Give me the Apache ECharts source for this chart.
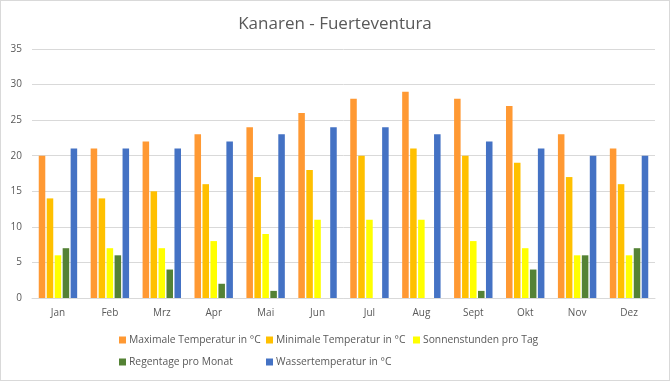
<!DOCTYPE html>
<html><head><meta charset="utf-8">
<script src="https://cdn.jsdelivr.net/npm/echarts@6/dist/echarts.min.js"></script>
<style>html,body{margin:0;padding:0;background:#fff}#c{width:668px;height:379px;border:1px solid #d9d9d9}</style>
</head><body><div id="c"></div>
<script>
var categories = ["Jan","Feb","Mrz","Apr","Mai","Jun","Jul","Aug","Sept","Okt","Nov","Dez"];
var maxTemp = [20,21,22,23,24,26,28,29,28,27,23,21];
var minTemp = [14,14,15,16,17,18,20,21,20,19,17,16];
var sunHours = [6,7,7,8,9,11,11,11,8,7,6,6];
var rainDays = [7,6,4,2,1,0,0,0,1,4,6,7];
var waterTemp = [21,21,21,22,23,24,24,23,22,21,20,20];
var names = ["Maximale Temperatur in °C","Minimale Temperatur in °C","Sonnenstunden pro Tag","Regentage pro Monat","Wassertemperatur in °C"];
var colors = ["#FF9933","#FFC000","#FFFF00","#548235","#4472C4"];
var yTicks = [0,5,10,15,20,25,30,35];
var chart = echarts.init(document.getElementById('c'));
var font = "'Open Sans', 'Liberation Sans', sans-serif";
var data = [maxTemp,minTemp,sunHours,rainDays,waterTemp];
var legendPos = [[118,334],[265,334],[412,334],[118,356],[265,356]];
var legends = names.map(function(n,i){
  return {data:[n], left:legendPos[i][0], top:legendPos[i][1], padding:0, itemWidth:7, itemHeight:7, itemGap:6, icon:'rect',
    textStyle:{color:'#595959', fontSize:10.3, fontFamily:font, padding:[0,0,0,-2]}};
});
chart.setOption({
  animation:false,
  color: colors,
  title:{text:'Kanaren - Fuerteventura', left:'center', top:10, textStyle:{color:'#595959', fontSize:17, fontWeight:'normal', fontFamily:font}},
  legend: legends,
  grid:{left:31, right:14, top:48, bottom:82, containLabel:false},
  xAxis:{type:'category', data:categories, axisTick:{show:false}, axisLine:{lineStyle:{color:'#d9d9d9'}},
    axisLabel:{color:'#595959', fontSize:10, fontFamily:font, margin:10}},
  yAxis:{type:'value', min:yTicks[0], max:yTicks[yTicks.length-1], interval:5, axisLine:{show:false}, axisTick:{show:false},
    splitLine:{lineStyle:{color:'#d9d9d9'}}, axisLabel:{color:'#595959', fontSize:10, fontFamily:font, margin:10}},
  series: data.map(function(d,i){return {name:names[i], type:'bar', data:d, barGap:'22%', barCategoryGap:'26%', itemStyle:{color:colors[i]}};})
});
</script></body></html>
